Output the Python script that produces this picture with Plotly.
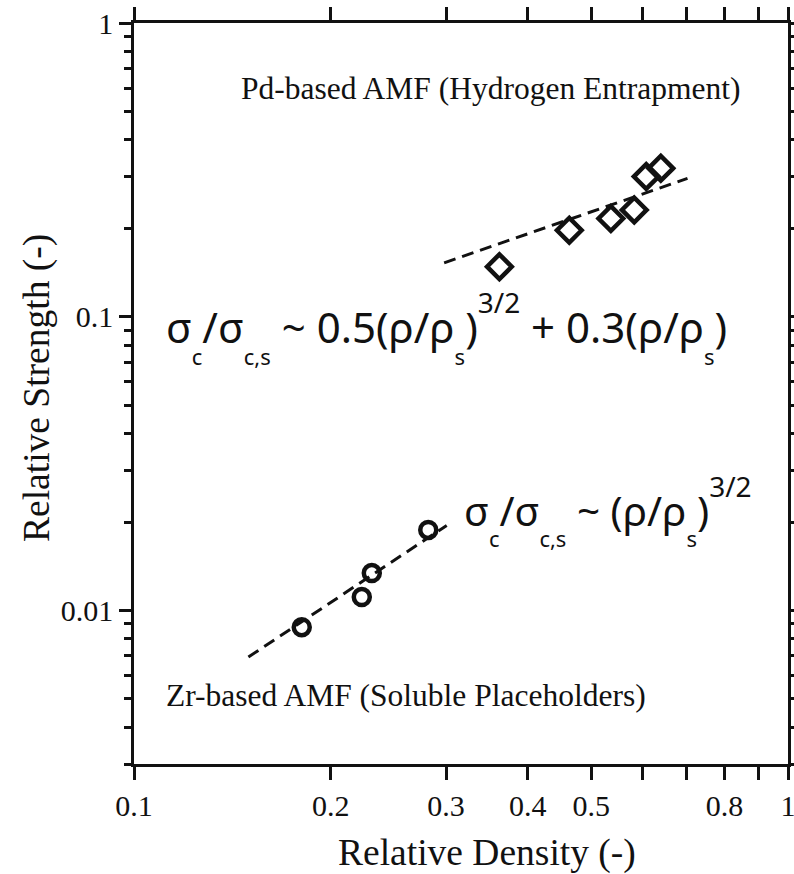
import plotly.graph_objects as go
import math

# ---- data ----
pd_density = [0.362, 0.463, 0.536, 0.582, 0.607, 0.639]
pd_strength = [0.148, 0.197, 0.216, 0.231, 0.300, 0.320]
pd_fit_x = [0.298, 0.702]
pd_fit_y = [0.1526, 0.2957]

zr_density = [0.1805, 0.2230, 0.2310, 0.2818]
zr_strength = [0.00877, 0.0111, 0.0134, 0.0188]
zr_fit_x = [0.1496, 0.3007]
zr_fit_y = [0.00694, 0.01946]

x_tickvals = [0.1, 0.2, 0.3, 0.4, 0.5, 0.6, 0.7, 0.8, 0.9, 1.0]
x_ticktext = ["0.1", "0.2", "0.3", "0.4", "0.5", "", "", "0.8", "", "1"]
y_tickvals = [0.01, 0.1, 1]
y_ticktext = ["0.01", "0.1", "1"]
y_minor = [0.003, 0.004, 0.005, 0.006, 0.007, 0.008, 0.009,
           0.02, 0.03, 0.04, 0.05, 0.06, 0.07, 0.08, 0.09,
           0.2, 0.3, 0.4, 0.5, 0.6, 0.7, 0.8, 0.9]

SERIF = "Liberation Serif"
SANS = "Noto Sans"
INK = "#111111"

fig = go.Figure()

fig.add_trace(go.Scatter(x=pd_density, y=pd_strength, mode="markers",
                         marker=dict(symbol="diamond-open", size=19, color=INK,
                                     line=dict(width=4.5, color=INK)),
                         showlegend=False))
fig.add_trace(go.Scatter(x=zr_density, y=zr_strength, mode="markers",
                         marker=dict(symbol="circle-open", size=16, color=INK,
                                     line=dict(width=4.5, color=INK)),
                         showlegend=False))
fig.add_trace(go.Scatter(x=pd_fit_x, y=pd_fit_y, mode="lines",
                         line=dict(color=INK, width=3, dash="12px,7px"),
                         showlegend=False))
fig.add_trace(go.Scatter(x=zr_fit_x, y=zr_fit_y, mode="lines",
                         line=dict(color=INK, width=3, dash="12px,7px"),
                         showlegend=False))

def sub(t, px=22):
    return "<sub><sub><sub><sub><span style='font-size:%dpx'>%s</span></sub></sub></sub></sub>" % (px, t)

def sup(t, px=28):
    return "<sup><sup><span style='font-size:%dpx'>%s</span></sup></sup>" % (px, t)

eq1 = ("σ" + sub("c") + "/σ" + sub("c,s") + " ~ 0.5(ρ/ρ" + sub("s") + ")" + sup("3/2")
       + " + 0.3(ρ/ρ" + sub("s") + ")")
eq2 = "σ" + sub("c") + "/σ" + sub("c,s") + " ~ (ρ/ρ" + sub("s") + ")" + sup("3/2")

W, H = 794, 874
L, R, T, B = 134, 6, 23, 110
pw, ph = W - L - R, H - T - B

def px2paper(x, y):
    return (x - L) / pw, (H - B - y) / ph

annots = []
def add_text(text, x, y, size, family, xanchor="center", yanchor="middle", angle=0):
    xp, yp = px2paper(x, y)
    annots.append(dict(text=text, x=xp, y=yp, xref="paper", yref="paper",
                       xanchor=xanchor, yanchor=yanchor, showarrow=False,
                       textangle=angle, font=dict(family=family, size=size, color=INK)))

add_text("Pd-based AMF (Hydrogen Entrapment)", 491, 88, 31.5, SERIF)
add_text("Zr-based AMF (Soluble Placeholders)", 406, 695, 31.5, SERIF)
add_text(eq1, 164, 327, 42, SANS, xanchor="left")
add_text(eq2, 462, 510, 40.5, SANS, xanchor="left")
add_text("Relative Strength (-)", 37, 388, 37.5, SERIF, angle=-90)
add_text("Relative Density (-)", 487, 853, 37.5, SERIF)

axis_common = dict(showline=True, linecolor=INK, linewidth=2.5, mirror="ticks",
                   ticks="outside", tickcolor=INK, tickwidth=2.5, showgrid=False,
                   zeroline=False, automargin=False, ticklabeloverflow="allow",
                   tickfont=dict(family=SERIF, size=30, color=INK))

fig.update_layout(
    width=W, height=H,
    margin=dict(l=L, r=R, t=T, b=B, autoexpand=False),
    paper_bgcolor="white", plot_bgcolor="white",
    annotations=annots,
    xaxis=dict(type="log", range=[-1, 0], tickmode="array", tickvals=x_tickvals,
               ticktext=x_ticktext, ticklen=13, **axis_common),
    yaxis=dict(type="log", range=[math.log10(0.003), 0], tickmode="array",
               tickvals=y_tickvals, ticktext=y_ticktext, ticklen=12,
               minor=dict(tickmode="array", tickvals=y_minor, ticklen=7,
                          ticks="outside", tickcolor=INK, tickwidth=2.5),
               **axis_common),
)

fig.write_html("out.html")
